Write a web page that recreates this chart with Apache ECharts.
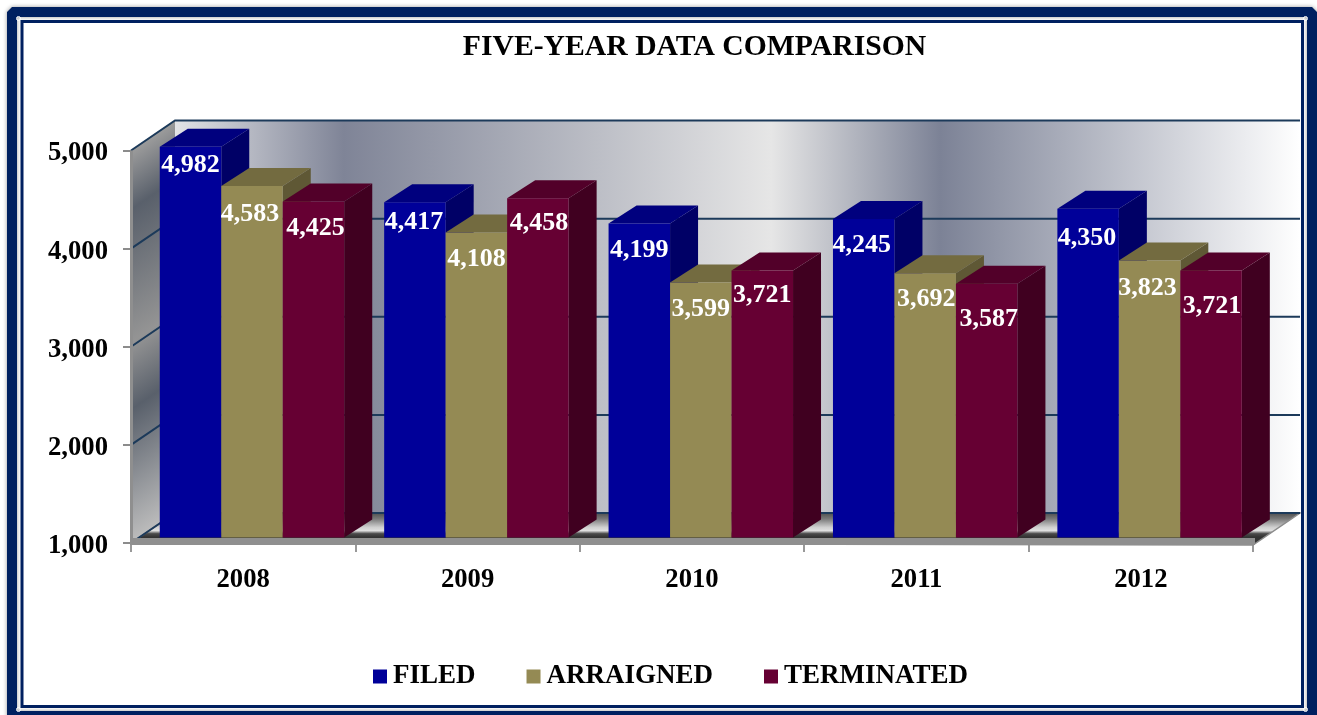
<!DOCTYPE html>
<html>
<head>
<meta charset="utf-8">
<title>Five-year data comparison</title>
<style>
  html, body { margin: 0; padding: 0; background: #fff; }
  #chart { width: 1317px; height: 715px; }
</style>
</head>
<body>
<div id="chart"></div>
<script src="https://cdn.jsdelivr.net/npm/echarts@6/dist/echarts.min.js"></script>
<script>
const years = ['2008', '2009', '2010', '2011', '2012'];
const filed = [4982, 4417, 4199, 4245, 4350];
const arraigned = [4583, 4108, 3599, 3692, 3823];
const terminated = [4425, 4458, 3721, 3587, 3721];
const yTicks = [1000, 2000, 3000, 4000, 5000];

// hand placed labels in the original, [dx, dy] from the default spot
const filedNudge = [[0, -8], [-1, -7], [0, 0], [-2, -1], [-1, 2]];
const arraignedNudge = [[-2, 1], [0, 0], [0, 0], [1, -1], [-2, 1]];
const terminatedNudge = [[2, 0], [1, -2], [0, -2], [2, 9], [1, 9]];

const serif = '"Liberation Serif", "Times New Roman", serif';
const depthX = 44, depthY = 30;     // wall depth
const barDX = 28, barDY = 18;       // bar depth
const shiftX = 8.8, shiftY = 5.5;   // bars stand a bit behind the front edge
const barShare = 0.822;

function wallItem (params, api) {
  const cs = params.coordSys;
  const x0 = cs.x;
  const x1 = cs.x + cs.width;
  const bottom = api.coord([0, 1000])[1];
  const top = api.coord([0, 5000])[1];
  const backL = x0 + depthX;
  const backR = x1 + depthX + 3;
  const h = bottom - top;
  const t = h * depthX / (depthX * depthX + depthY * depthY);
  const children = [];

  // back wall
  children.push({
    type: 'rect',
    shape: { x: backL, y: top - depthY, width: backR - backL, height: h },
    style: {
      fill: new echarts.graphic.LinearGradient(0, 0, 1, 0, [
        { offset: 0, color: '#e2e3e6' },
        { offset: 0.15, color: '#7f8497' },
        { offset: 0.53, color: '#e6e6e6' },
        { offset: 0.68, color: '#7c8296' },
        { offset: 1, color: '#ffffff' }
      ])
    }
  });
  // side wall
  children.push({
    type: 'polygon',
    shape: { points: [[x0, top], [backL, top - depthY], [backL, bottom - depthY], [x0, bottom]] },
    style: {
      fill: new echarts.graphic.LinearGradient(x0, top, x0 + t * depthY, top + t * depthX, [
        { offset: 0, color: '#9c9c9c' },
        { offset: 0.15, color: '#59606b' },
        { offset: 0.49, color: '#949494' },
        { offset: 0.66, color: '#59606b' },
        { offset: 1, color: '#bcbcbc' }
      ], true)
    }
  });
  // floor
  children.push({
    type: 'polygon',
    shape: { points: [[x0, bottom], [backL, bottom - depthY], [backR, bottom - depthY], [x1, bottom + 2]] },
    style: {
      stroke: '#8c8c8c',
      lineWidth: 1.5,
      fill: new echarts.graphic.LinearGradient(0, 0, 0, 1, [
        { offset: 0, color: '#4a4a4a' },
        { offset: 0.2, color: '#7a7a7a' },
        { offset: 0.45, color: '#d0d0d0' },
        { offset: 0.55, color: '#e0e0e0' },
        { offset: 0.64, color: '#4a4a4a' },
        { offset: 0.74, color: '#333333' },
        { offset: 1, color: '#333333' }
      ])
    }
  });
  // grid lines run up the side wall and along the back
  yTicks.forEach(function (v) {
    const y = api.coord([0, v])[1];
    children.push({
      type: 'polyline',
      shape: { points: [[x0, y], [backL, y - depthY], [backR, y - depthY]] },
      style: { fill: null, stroke: '#1c3a5a', lineWidth: 2 }
    });
  });
  // front edges
  children.push({
    type: 'rect',
    shape: { x: x0 - 1, y: bottom - 5, width: x1 - x0 + 3, height: 7 },
    style: { fill: '#8f8f8f' }
  });
  children.push({
    type: 'rect',
    shape: { x: x0 - 1, y: top, width: 3, height: h },
    style: { fill: '#8f8f8f' }
  });
  return { type: 'group', children: children };
}

function barRenderer (slot, colors, nudge) {
  return function (params, api) {
    const i = api.value(0);
    const v = api.value(1);
    const base = api.coord([i, 1000]);
    const topPt = api.coord([i, v]);
    const w = api.size([1, 0])[0] * barShare / 3;
    const left = base[0] + shiftX + (slot - 1.5) * w;
    const right = left + w;
    const yB = base[1] - shiftY;
    const yT = topPt[1] - shiftY;
    return {
      type: 'group',
      children: [
        {
          type: 'polygon',
          shape: { points: [[right, yT], [right + barDX, yT - barDY], [right + barDX, yB - barDY], [right, yB]] },
          style: { fill: colors.side }
        },
        {
          type: 'polygon',
          shape: { points: [[left, yT], [left + barDX, yT - barDY], [right + barDX, yT - barDY], [right, yT]] },
          style: { fill: colors.top }
        },
        {
          type: 'rect',
          shape: { x: left, y: yT, width: w, height: yB - yT },
          style: { fill: colors.front }
        },
        {
          type: 'text',
          style: {
            text: v.toLocaleString('en-US'),
            x: left + w / 2 + nudge[i][0],
            y: yT + 27 + nudge[i][1],
            fill: '#ffffff',
            font: 'bold 26px ' + serif,
            align: 'center',
            verticalAlign: 'middle'
          }
        }
      ]
    };
  };
}

function barSeries (name, values, slot, colors, nudge) {
  return {
    name: name,
    type: 'custom',
    clip: false,
    itemStyle: { color: colors.front },
    encode: { x: 0, y: 1 },
    data: values.map(function (v, i) { return [i, v]; }),
    renderItem: barRenderer(slot, colors, nudge),
    z: 3
  };
}

// the little white rings on the frame corners
function cornerRing (x, y) {
  return { type: 'circle', z: 12, silent: true, shape: { cx: x, cy: y, r: 2 }, style: { fill: null, stroke: '#ffffff', lineWidth: 1 } };
}

const chart = echarts.init(document.getElementById('chart'));
chart.setOption({
  animation: false,
  backgroundColor: '#ffffff',
  title: {
    text: 'FIVE-YEAR DATA COMPARISON',
    left: 689.5,
    top: 27,
    textAlign: 'center',
    textStyle: { color: '#000', fontFamily: serif, fontWeight: 'bold', fontSize: 29.7 }
  },
  legend: {
    left: 368,
    top: 658,
    data: ['FILED', 'ARRAIGNED', 'TERMINATED'],
    icon: 'rect',
    itemWidth: 14,
    itemHeight: 14,
    itemGap: 51,
    textStyle: { color: '#000', fontFamily: serif, fontWeight: 'bold', fontSize: 27, padding: [0, 0, 0, 1] }
  },
  grid: { left: 131, top: 150.5, width: 1122, height: 392.5 },
  xAxis: {
    type: 'category',
    data: years,
    axisLine: { show: false },
    axisTick: { show: true, alignWithLabel: false, length: 9, lineStyle: { color: '#999', width: 2 } },
    axisLabel: { color: '#000', fontFamily: serif, fontWeight: 'bold', fontSize: 26.67, margin: 23.5 }
  },
  yAxis: {
    type: 'value',
    min: 1000,
    max: 5000,
    interval: 1000,
    splitLine: { show: false },
    axisLine: { show: false },
    axisTick: { show: true, length: 8, lineStyle: { color: '#8c8c8c', width: 2 } },
    axisLabel: {
      color: '#000',
      fontFamily: serif,
      fontWeight: 'bold',
      fontSize: 26.67,
      margin: 23,
      verticalAlign: 'top',
      lineHeight: 6,
      formatter: function (v) { return v.toLocaleString('en-US'); }
    }
  },
  graphic: [
    { type: 'rect', z: 10, silent: true, shape: { x: 12, y: 12, width: 1300, height: 704 },
      style: { fill: null, stroke: '#002060', lineWidth: 10, lineJoin: 'bevel', shadowBlur: 4, shadowColor: 'rgba(0,0,0,0.4)' } },
    { type: 'rect', z: 11, silent: true, shape: { x: 22, y: 21.5, width: 1280.5, height: 685 },
      style: { fill: null, stroke: '#002060', lineWidth: 3 } },
    cornerRing(18.5, 18.5), cornerRing(1305.5, 18.5), cornerRing(18.5, 709.5), cornerRing(1305.5, 709.5)
  ],
  series: [
    { name: 'wall', type: 'custom', clip: false, z: 1, silent: true, encode: { x: 0, y: 1 }, data: [[0, 1000]], renderItem: wallItem },
    barSeries('FILED', filed, 0, { front: '#000099', top: '#00007e', side: '#000066' }, filedNudge),
    barSeries('ARRAIGNED', arraigned, 1, { front: '#948a54', top: '#736b40', side: '#5f5835' }, arraignedNudge),
    barSeries('TERMINATED', terminated, 2, { front: '#660033', top: '#520029', side: '#400020' }, terminatedNudge)
  ]
});
</script>
</body>
</html>
